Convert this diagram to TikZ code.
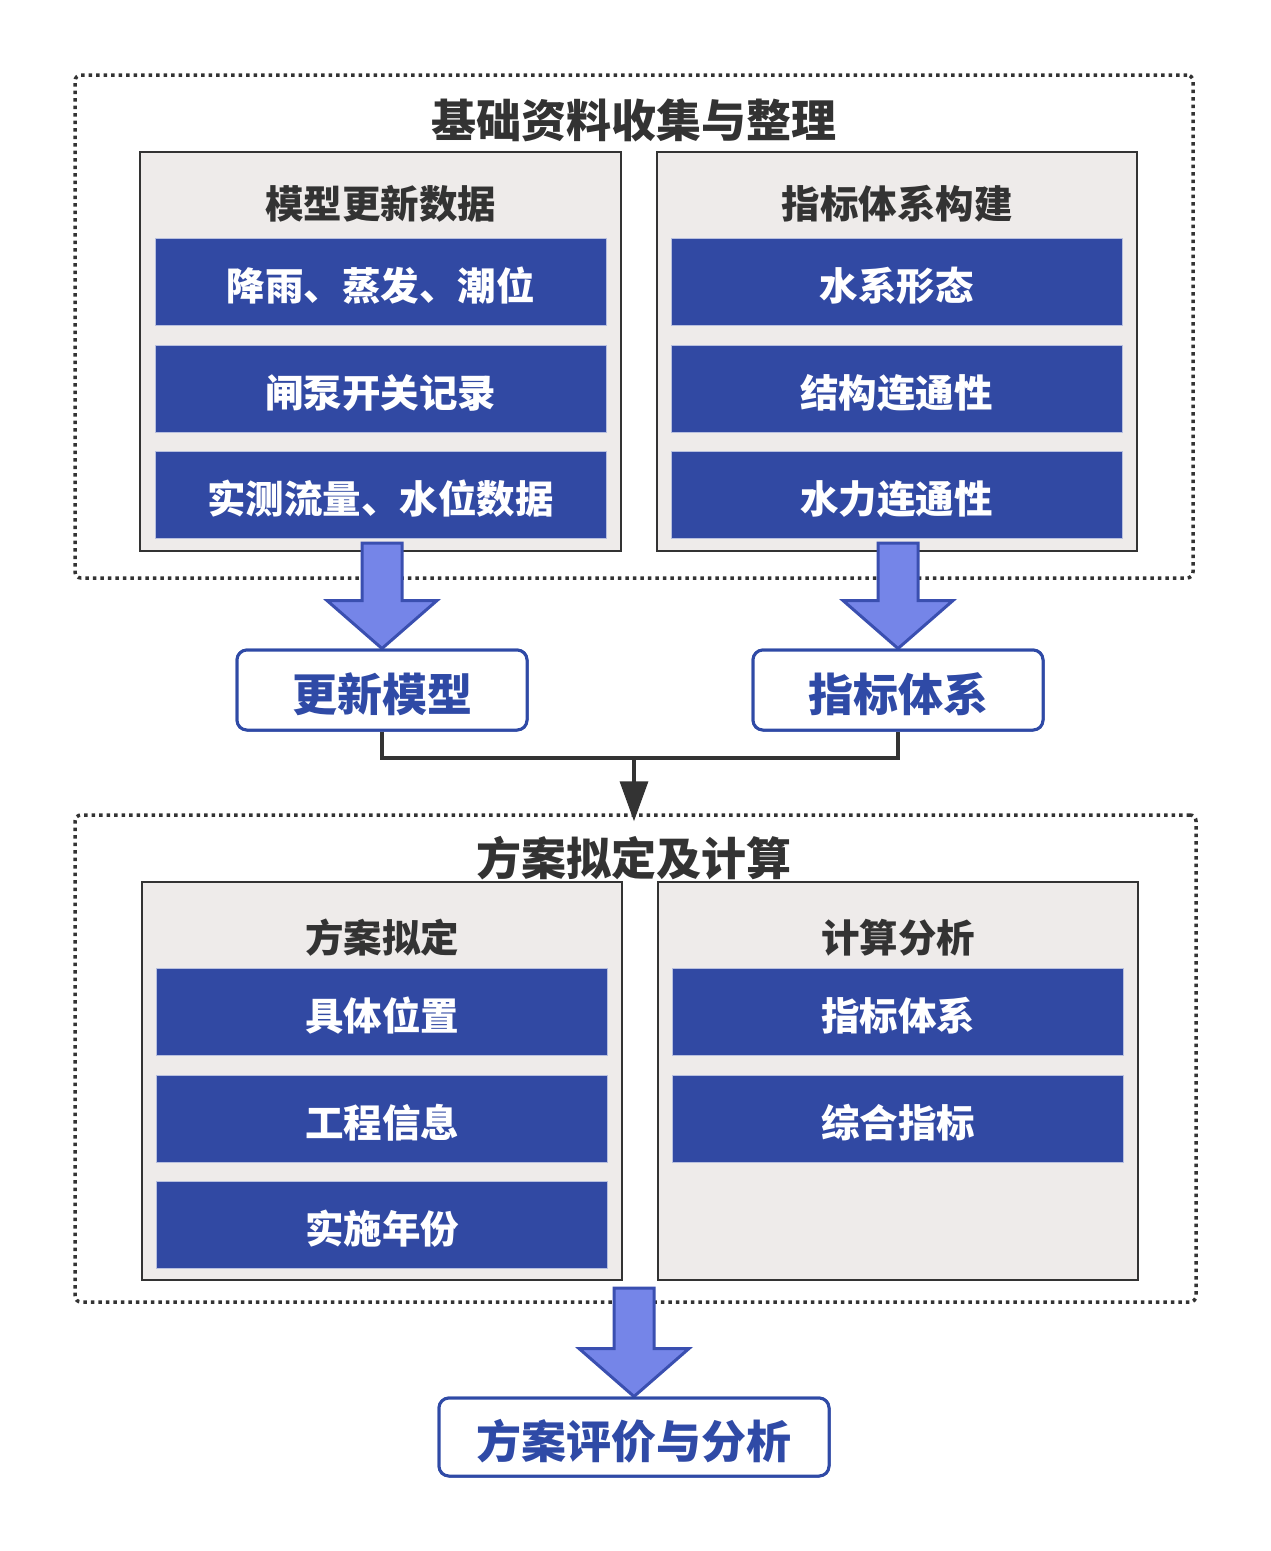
\documentclass[tikz,border=0pt]{standalone}
\usepackage{fontspec}
\newfontfamily\cjk{Noto Sans CJK SC}[BoldFont={Noto Sans CJK SC Black}]
\usetikzlibrary{arrows.meta,calc}
\definecolor{rowblue}{HTML}{3149A3}
\definecolor{panelfill}{HTML}{EEEBEA}
\definecolor{darkline}{HTML}{333333}
\definecolor{arrfill}{HTML}{7585E8}
\definecolor{arrline}{HTML}{3A4FB0}
\definecolor{boxblue}{HTML}{2F4AA6}
\newcommand\blockarr[2]{\draw[barrow] let \p1=(#1), \p2=(#2.north) in
  (\x2-20pt,\y1) -- (\x2+20pt,\y1) -- (\x2+20pt,\y2+48pt) -- (\x2+55pt,\y2+48pt)
  -- (\x2,\y2) -- (\x2-55pt,\y2+48pt) -- (\x2-20pt,\y2+48pt) -- cycle;}
\begin{document}
\begin{tikzpicture}[x=1pt,y=-1pt,
  frame/.style={draw=darkline,line width=3.5pt,dash pattern=on 3.5pt off 4pt,rounded corners=6pt,inner sep=0pt},
  panel/.style={draw=darkline,line width=2.5pt,fill=panelfill,minimum width=480pt,minimum height=398pt,inner sep=0pt},
  rowbox/.style={fill=rowblue,draw=rowblue!35!white,line width=1pt,minimum width=451pt,minimum height=87pt,inner sep=0pt,
    text=white,font=\cjk\bfseries\fontsize{38.5}{40}\selectfont,text height=37pt,text depth=0pt},
  head/.style={text=darkline,inner sep=0pt,font=\cjk\bfseries\fontsize{38.5}{40}\selectfont},
  titletext/.style={text=darkline,inner sep=0pt,font=\cjk\bfseries\fontsize{45}{48}\selectfont},
  result/.style={draw=boxblue,line width=3pt,rounded corners=10pt,fill=white,text=boxblue,minimum height=80pt,inner sep=0pt,
    font=\cjk\bfseries\fontsize{45}{47}\selectfont,text height=43pt,text depth=0pt},
  barrow/.style={draw=arrline,fill=arrfill,line width=3pt,line join=miter},
  conn/.style={draw=darkline,line width=3.5pt}]
\useasboundingbox (0,0) rectangle (1270,1551);
\fill[white] (0,0) rectangle (1270,1551);

% ---------- section 1 ----------
\node[frame,minimum width=1118pt,minimum height=503pt] (f1) at (634,326.5) {};
\node[titletext] (t1) at (634,120) {基础资料收集与整理};
\node[panel,minimum width=481pt,minimum height=399pt] (pl1) at (380.5,351.5) {};
\node[panel,minimum width=480pt,minimum height=399pt] (pr1) at (897,351.5) {};
\node[head] (hl1) at (380.5,203.5) {模型更新数据};
\node[head] (hr1) at (897,203.5) {指标体系构建};
\node[rowbox] (a1) at (380.5,281.5) {降雨、蒸发、潮位};
\node[rowbox] (a2) at (380.5,388.5) {闸泵开关记录};
\node[rowbox] (a3) at (380.5,495) {实测流量、水位数据};
\node[rowbox] (b1) at (896.5,281.5) {水系形态};
\node[rowbox] (b2) at (896.5,388.5) {结构连通性};
\node[rowbox] (b3) at (896.5,495) {水力连通性};

% ---------- result boxes ----------
\coordinate (s1) at (382,543);
\coordinate (s2) at (898,543);
\node[result,minimum width=290pt] (ub) at (382,690) {更新模型};
\node[result,minimum width=290pt] (ib) at (898,690) {指标体系};
\blockarr{s1}{ub}
\blockarr{s2}{ib}
\node[result,minimum width=290pt] at (ub) {更新模型};
\node[result,minimum width=290pt] at (ib) {指标体系};

% ---------- section 2 ----------
\node[frame,minimum width=1121pt,minimum height=487pt] (f2) at (635.5,1058.5) {};
\coordinate (j) at (634,758);
\draw[conn] (ub.south) -- (ub.south |- j) -- (ib.south |- j) -- (ib.south);
\draw[conn,-{Triangle[width=28pt,length=40pt]}] (j) -- ($(f2.north)+(-1.5,8)$);
\node[titletext] (t2) at (634,858) {方案拟定及计算};
\node[panel] (pl2) at (382,1081) {};
\node[panel] (pr2) at (898,1081) {};
\node[head] (hl2) at (382,938) {方案拟定};
\node[head] (hr2) at (898,938) {计算分析};
\node[rowbox] (c1) at (382,1011.5) {具体位置};
\node[rowbox] (c2) at (382,1118.5) {工程信息};
\node[rowbox] (c3) at (382,1225) {实施年份};
\node[rowbox] (d1) at (898,1011.5) {指标体系};
\node[rowbox] (d2) at (898,1118.5) {综合指标};

% ---------- final ----------
\coordinate (s3) at (634,1288);
\node[result,minimum width=390pt,minimum height=78pt] (fb) at (634,1437) {方案评价与分析};
\blockarr{s3}{fb}
\node[result,minimum width=390pt,minimum height=78pt] at (fb) {方案评价与分析};
\end{tikzpicture}
\end{document}
